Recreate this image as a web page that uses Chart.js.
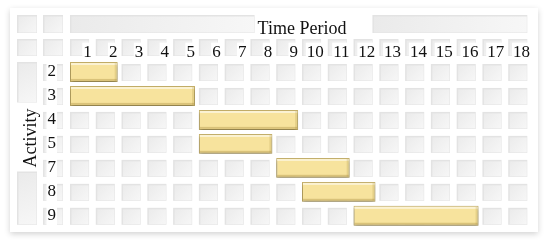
<!DOCTYPE html>
<html><head><meta charset="utf-8">
<script src="https://cdn.jsdelivr.net/npm/chart.js@4"></script>
<style>html,body{margin:0;padding:0;background:#fff;}#wrap{width:550px;height:244px;position:relative}</style>
</head><body><div id="wrap"><canvas id="c"></canvas></div>
<script>
// ---- data ----
const activities = ['2', '3', '4', '5', '7', '8', '9'];
const startPeriod = [1, 1, 6, 6, 9, 10, 12];
const endPeriod = [2, 5, 9, 8, 11, 12, 16];
const periodLabels = ['1','2','3','4','5','6','7','8','9','10','11','12','13','14','15','16','17','18'];
const xTitle = 'Time Period';
const yTitle = 'Activity';

const FONT = "'Liberation Serif', 'Times New Roman', serif";
const TXT = '#111';

function cell(ctx, x, y, w, h) {
  ctx.fillStyle = '#e3e3e3';
  ctx.fillRect(x, y, w, h);
  const g = ctx.createLinearGradient(x, y, x + w, y + h);
  g.addColorStop(0, '#eaeaea');
  g.addColorStop(1, '#f7f7f7');
  ctx.fillStyle = g;
  ctx.fillRect(x + 1.5, y + 1.5, w - 2, h - 2);
}

const decor = {
  id: 'decor',
  beforeDraw(chart) {
    const ctx = chart.ctx;
    const xs = chart.scales.x, ys = chart.scales.y;
    const unit = xs.getPixelForValue(1) - xs.getPixelForValue(0);
    const cw = unit * 0.74;
    ctx.save();
    // outer panel
    ctx.shadowColor = 'rgba(0,0,0,0.18)';
    ctx.shadowBlur = 6;
    ctx.shadowOffsetY = 2;
    ctx.fillStyle = '#fff';
    ctx.fillRect(10, 8, 528, 224);
    ctx.shadowColor = 'transparent';
    const colA = 17, colB = 43, sideW = 20;
    // data rows
    activities.forEach((a, i) => {
      const cy = ys.getPixelForValue(i);
      const top = cy - 8, h = 17;
      cell(ctx, colB, top, sideW, h);
      for (let k = 0; k < periodLabels.length; k++) {
        cell(ctx, xs.getPixelForValue(k), top, cw, h);
      }
    });
    // header number row
    const hTop = 39, hH = 17;
    cell(ctx, colA, hTop, sideW, hH);
    cell(ctx, colB, hTop, sideW, hH);
    for (let k = 0; k < periodLabels.length; k++) {
      cell(ctx, xs.getPixelForValue(k), hTop, cw, hH);
    }
    // title row
    const tTop = 15, tH = 18;
    cell(ctx, colA, tTop, sideW, tH);
    cell(ctx, colB, tTop, sideW, tH);
    ctx.font = '18px ' + FONT;
    const tw = ctx.measureText(xTitle).width;
    const mid = (xs.left + xs.right) / 2;
    const x0 = xs.getPixelForValue(0), x1 = xs.getPixelForValue(18) - unit + cw;
    cell(ctx, x0, tTop, (mid - tw / 2 - 3) - x0, tH);
    const rs = mid + tw / 2 + 26;
    cell(ctx, rs, tTop, x1 - rs, tH);
    // Activity column (merged)
    const aTop = ys.getPixelForValue(0) - 10, aBot = ys.getPixelForValue(activities.length - 1) + 9;
    const aMid = 138;
    ctx.font = '18px ' + FONT;
    const aw = ctx.measureText(yTitle).width;
    cell(ctx, colA, aTop, sideW, (aMid - aw / 2 - 6) - aTop);
    cell(ctx, colA, aMid + aw / 2 + 4, sideW, aBot - (aMid + aw / 2 + 4));
    ctx.fillStyle = TXT;
    ctx.translate(31, aMid);
    ctx.rotate(-Math.PI / 2);
    ctx.textAlign = 'center';
    ctx.textBaseline = 'middle';
    ctx.fillText(yTitle, 0, 0);
    ctx.restore();
  },
  beforeDatasetsDraw(chart) {
    const ctx = chart.ctx;
    ctx.save();
    ctx.shadowColor = 'rgba(0,0,0,0.35)';
    ctx.shadowBlur = 4;
    ctx.shadowOffsetY = 2;
  },
  afterDatasetsDraw(chart) {
    const ctx = chart.ctx;
    ctx.restore();
    const meta = chart.getDatasetMeta(0);
    ctx.save();
    meta.data.forEach(el => {
      const p = el.getProps(['x', 'y', 'base', 'height'], true);
      const l = Math.min(p.x, p.base), r = Math.max(p.x, p.base);
      const t = p.y - p.height / 2, b = p.y + p.height / 2;
      ctx.fillStyle = 'rgba(255,255,255,0.55)';
      ctx.fillRect(l + 1, t + 1, r - l - 2, 2);
      ctx.fillStyle = 'rgba(150,120,40,0.30)';
      ctx.fillRect(l + 1, b - 3, r - l - 2, 2);
      ctx.fillStyle = 'rgba(150,120,40,0.18)';
      ctx.fillRect(r - 3, t + 1, 2, b - t - 2);
    });
    ctx.restore();
  }
};

new Chart(document.getElementById('c'), {
  type: 'bar',
  data: {
    labels: activities,
    datasets: [{
      data: activities.map((a, i) => [startPeriod[i] - 1, endPeriod[i] - 0.15]),
      backgroundColor: '#f7e39d',
      borderColor: '#c9b36b',
      borderWidth: 1,
      borderSkipped: false,
      barPercentage: 1,
      categoryPercentage: 0.83
    }]
  },
  options: {
    indexAxis: 'y',
    responsive: true,
    maintainAspectRatio: false,
    animation: false,
    layout: { padding: { left: 0, right: 16, top: 0, bottom: 16 } },
    plugins: { legend: { display: false }, tooltip: { enabled: false } },
    scales: {
      x: {
        type: 'linear', position: 'top', min: 0, max: 18,
        grid: { display: false }, border: { display: false },
        afterFit: s => { s.height = 60; },
        afterBuildTicks: s => { s.ticks = periodLabels.map((l, i) => ({ value: i + 1 })); },
        ticks: {
          autoSkip: false, maxRotation: 0,
          callback: (v, i) => periodLabels[i],
          align: 'end', labelOffset: -4, padding: -11,
          font: { family: FONT, size: 17 }, color: TXT,
          showLabelBackdrop: true, backdropColor: '#fff', backdropPadding: { top: 0, bottom: 0, left: 1, right: 1 }
        },
        title: { display: true, text: xTitle, color: TXT, font: { family: FONT, size: 18 }, padding: { top: 18, bottom: 0 } }
      },
      y: {
        type: 'category',
        grid: { display: false }, border: { display: false },
        afterFit: s => { s.width = 70; },
        ticks: {
          padding: 6,
          font: { family: FONT, size: 17 }, color: TXT,
          showLabelBackdrop: true, backdropColor: '#fff', backdropPadding: { top: 0, bottom: 0, left: 1, right: 1 }
        }
      }
    }
  },
  plugins: [decor]
});
</script></body></html>
